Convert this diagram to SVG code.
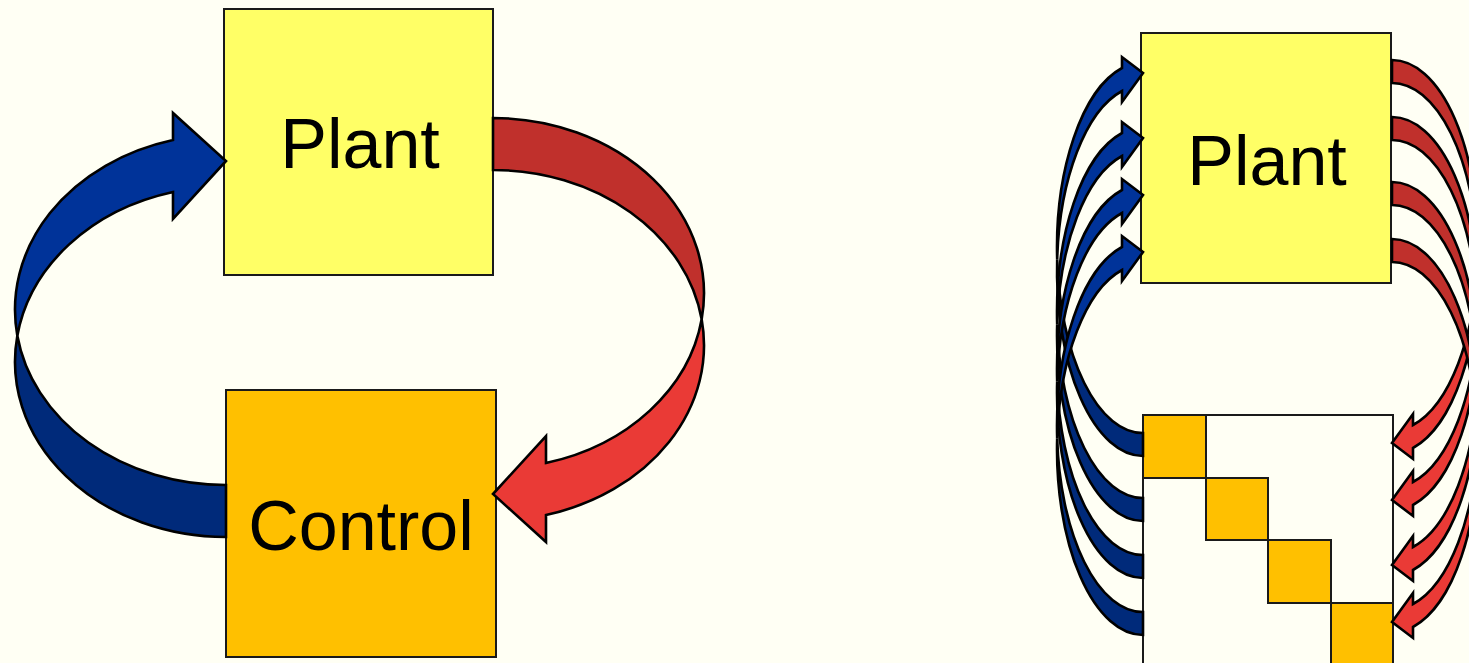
<svg xmlns="http://www.w3.org/2000/svg" width="1469" height="663" viewBox="0 0 1469 663">
<style>
.bg{fill:#FFFFF4}
.box{stroke:#1a1a1a;stroke-width:2}
.plant{fill:#FFFF66}
.ctrl{fill:#FFC000}
.mat{fill:#FFFFF4}
.lbl{font-family:"Liberation Sans",Arial,sans-serif;font-size:70px;fill:#000;text-anchor:middle}
.arr path{stroke:#000;stroke-width:2.6;stroke-linejoin:miter}
.bh{fill:#003399}
.bt{fill:#002A7A}
.rh{fill:#EA3A36}
.rt{fill:#C0302C}
</style>
<rect class="bg" x="0" y="0" width="1469" height="663"/>

<g id="plant-left">
<rect class="box plant" x="224" y="9" width="269" height="266"/>
<text class="lbl" x="360" y="168">Plant</text>
</g>
<g id="control-left">
<rect class="box ctrl" x="226" y="390" width="270" height="267"/>
<text class="lbl" x="361" y="550">Control</text>
</g>
<g id="plant-right">
<rect class="box plant" x="1141" y="33" width="250" height="250"/>
<text class="lbl" x="1267" y="185">Plant</text>
</g>
<g id="control-right">
<rect class="box mat" x="1143" y="415" width="250" height="270"/>
<rect class="box ctrl" x="1143" y="415" width="63" height="63"/>
<rect class="box ctrl" x="1206" y="478" width="62" height="62"/>
<rect class="box ctrl" x="1268" y="540" width="63" height="63"/>
<rect class="box ctrl" x="1331" y="603" width="62" height="80"/>
</g>

<g id="connectors" class="arr">
<g id="left-blue">
<path class="bt" d="M17.34,335.7 A211,175.3 0 0 0 226,537 L226,485 A211,175.3 0 0 1 17.34,335.7 Z"/>
<path class="bh" d="M173,140 A211,175.3 0 0 0 17.34,335.7 A211,175.3 0 0 1 173,192 L173,219 L226,161 L173,113 Z"/>
</g>
<g id="left-red" transform="rotate(180 359.5 327.5)">
<path class="rt" d="M17.34,335.7 A211,175.3 0 0 0 226,537 L226,485 A211,175.3 0 0 1 17.34,335.7 Z"/>
<path class="rh" d="M173,140 A211,175.3 0 0 0 17.34,335.7 A211,175.3 0 0 1 173,192 L173,219 L226,161 L173,113 Z"/>
</g>
<g id="right-blue-1"><path class="bt" d="M1057.17,259.2 A86,185.3 0 0 0 1143,456 L1143,433 A86,185.3 0 0 1 1057.17,259.2 Z"/><path class="bh" d="M1122,68 A86,185.3 0 0 0 1057.17,259.2 A86,185.3 0 0 1 1122,91 L1122,102 L1143,73 L1122,57 Z"/></g>
<g id="right-blue-2" transform="translate(0 65)"><path class="bt" d="M1057.17,259.2 A86,185.3 0 0 0 1143,456 L1143,433 A86,185.3 0 0 1 1057.17,259.2 Z"/><path class="bh" d="M1122,68 A86,185.3 0 0 0 1057.17,259.2 A86,185.3 0 0 1 1122,91 L1122,102 L1143,73 L1122,57 Z"/></g>
<g id="right-blue-3" transform="translate(0 122)"><path class="bt" d="M1057.17,259.2 A86,185.3 0 0 0 1143,456 L1143,433 A86,185.3 0 0 1 1057.17,259.2 Z"/><path class="bh" d="M1122,68 A86,185.3 0 0 0 1057.17,259.2 A86,185.3 0 0 1 1122,91 L1122,102 L1143,73 L1122,57 Z"/></g>
<g id="right-blue-4" transform="translate(0 179)"><path class="bt" d="M1057.17,259.2 A86,185.3 0 0 0 1143,456 L1143,433 A86,185.3 0 0 1 1057.17,259.2 Z"/><path class="bh" d="M1122,68 A86,185.3 0 0 0 1057.17,259.2 A86,185.3 0 0 1 1122,91 L1122,102 L1143,73 L1122,57 Z"/></g>
<g id="right-red-1" transform="rotate(180 1267.5 258)"><path class="rt" d="M1057.17,259.2 A86,185.3 0 0 0 1143,456 L1143,433 A86,185.3 0 0 1 1057.17,259.2 Z"/><path class="rh" d="M1122,68 A86,185.3 0 0 0 1057.17,259.2 A86,185.3 0 0 1 1122,91 L1122,102 L1143,73 L1122,57 Z"/></g>
<g id="right-red-2" transform="translate(0 57) rotate(180 1267.5 258)"><path class="rt" d="M1057.17,259.2 A86,185.3 0 0 0 1143,456 L1143,433 A86,185.3 0 0 1 1057.17,259.2 Z"/><path class="rh" d="M1122,68 A86,185.3 0 0 0 1057.17,259.2 A86,185.3 0 0 1 1122,91 L1122,102 L1143,73 L1122,57 Z"/></g>
<g id="right-red-3" transform="translate(0 122) rotate(180 1267.5 258)"><path class="rt" d="M1057.17,259.2 A86,185.3 0 0 0 1143,456 L1143,433 A86,185.3 0 0 1 1057.17,259.2 Z"/><path class="rh" d="M1122,68 A86,185.3 0 0 0 1057.17,259.2 A86,185.3 0 0 1 1122,91 L1122,102 L1143,73 L1122,57 Z"/></g>
<g id="right-red-4" transform="translate(0 179) rotate(180 1267.5 258)"><path class="rt" d="M1057.17,259.2 A86,185.3 0 0 0 1143,456 L1143,433 A86,185.3 0 0 1 1057.17,259.2 Z"/><path class="rh" d="M1122,68 A86,185.3 0 0 0 1057.17,259.2 A86,185.3 0 0 1 1122,91 L1122,102 L1143,73 L1122,57 Z"/></g>
</g>
</svg>
